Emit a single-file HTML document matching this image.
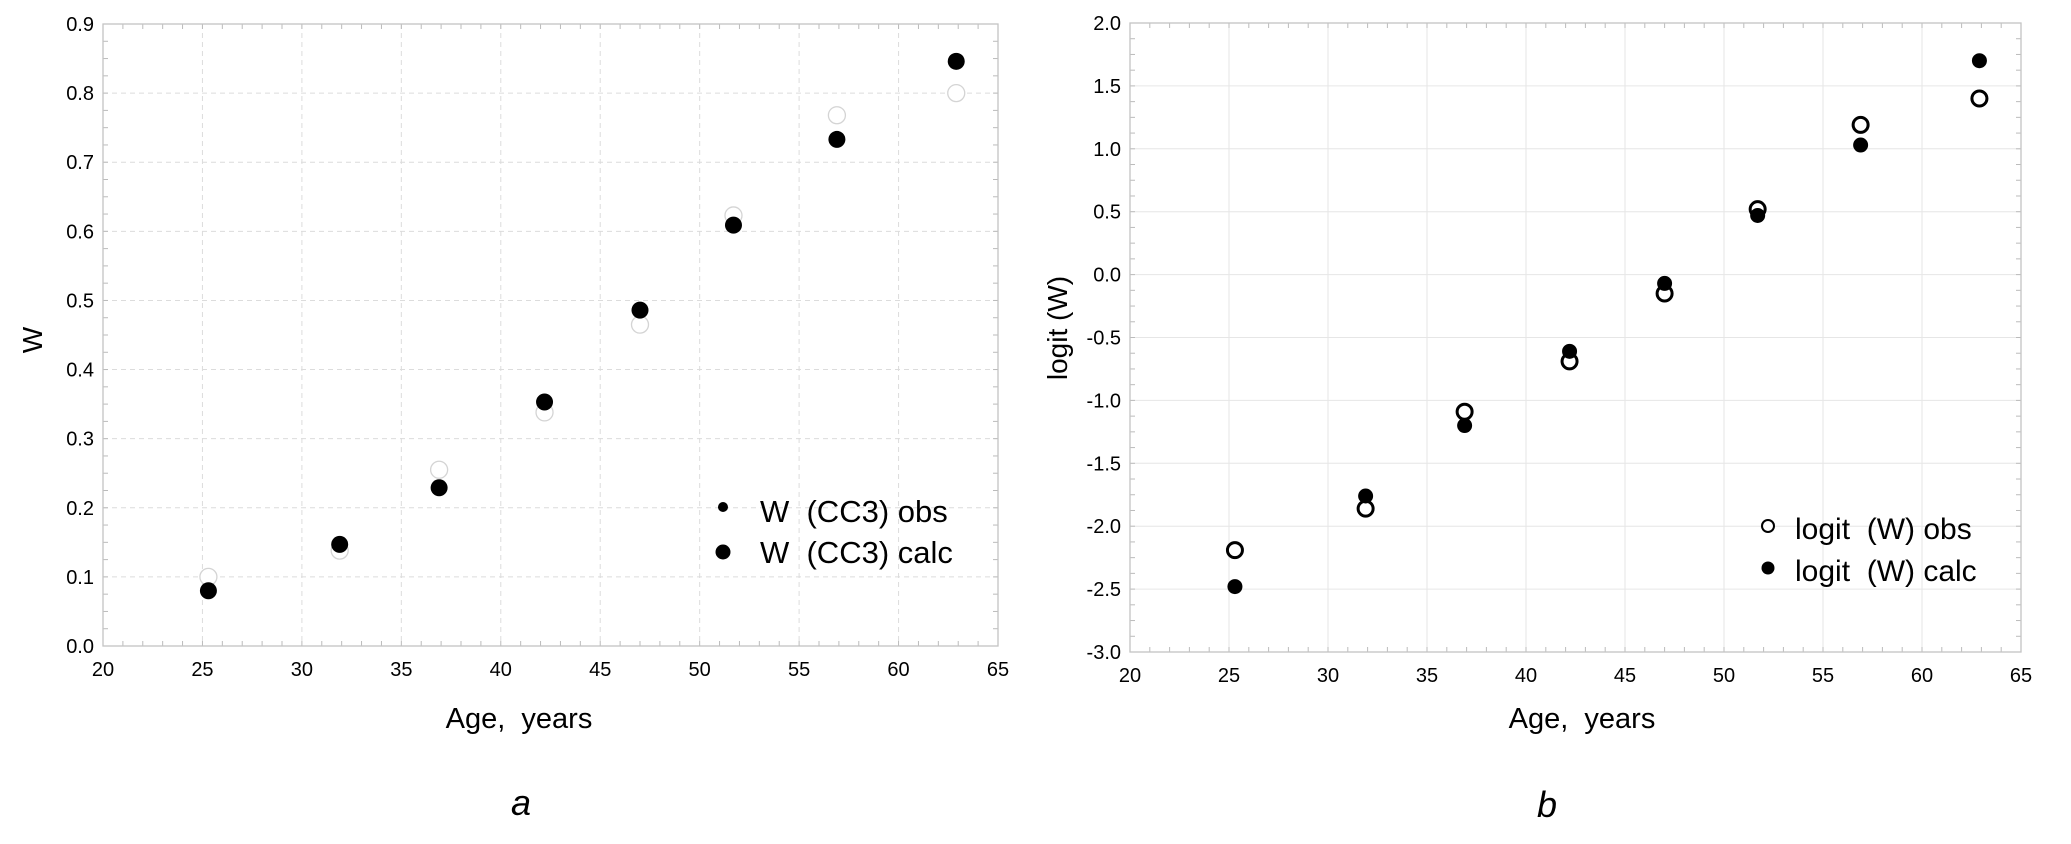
<!DOCTYPE html>
<html><head><meta charset="utf-8"><style>
body{margin:0;background:#fff;}
svg{display:block;font-family:"Liberation Sans",sans-serif;}
text{white-space:pre;}
</style></head><body>
<svg id="fig" width="2071" height="844">
<g id="pa"></g>
<g id="pb"></g>
<text x="521" y="815" font-size="36" font-style="italic" text-anchor="middle">a</text>
<text x="1547" y="817" font-size="36" font-style="italic" text-anchor="middle">b</text>
</svg>
<script>
const ages = [25.3, 31.9, 36.9, 42.2, 47.0, 51.7, 56.9, 62.9];
const wObs = [0.10, 0.138, 0.255, 0.338, 0.465, 0.623, 0.768, 0.80];
const wCalc = [0.08, 0.147, 0.229, 0.353, 0.486, 0.609, 0.733, 0.846];
const logitObs = [-2.19, -1.86, -1.09, -0.69, -0.15, 0.52, 1.19, 1.40];
const logitCalc = [-2.48, -1.76, -1.20, -0.61, -0.07, 0.47, 1.03, 1.70];
const xTicks = [20, 25, 30, 35, 40, 45, 50, 55, 60, 65];
const yTicksA = ["0.0","0.1","0.2","0.3","0.4","0.5","0.6","0.7","0.8","0.9"];
const yTicksB = ["-3.0","-2.5","-2.0","-1.5","-1.0","-0.5","0.0","0.5","1.0","1.5","2.0"];

const NS='http://www.w3.org/2000/svg';
function mk(parent, tag, attrs, text){
  const e=document.createElementNS(NS,tag);
  for(const k in attrs) e.setAttribute(k,attrs[k]);
  if(text!==undefined) e.textContent=text;
  parent.appendChild(e); return e;
}
function chart(g, cfg){
  const {L,R,T,B,ymin,ymax,yTicks,dashed}=cfg;
  const sx=v=>L+(v-20)/(65-20)*(R-L);
  const sy=v=>B-(v-ymin)/(ymax-ymin)*(B-T);
  xTicks.forEach(t=>{ if(t>20&&t<65){
    const l=mk(g,'line',{x1:sx(t),x2:sx(t),y1:T,y2:B,stroke:dashed?'#dcdcdc':'#e6e6e6','stroke-width':1,'stroke-dasharray':dashed?'5,4':'none'});
     }});
  yTicks.forEach(t=>{ const v=parseFloat(t); if(v>ymin&&v<ymax){
    const l=mk(g,'line',{x1:L,x2:R,y1:sy(v),y2:sy(v),stroke:dashed?'#dcdcdc':'#e6e6e6','stroke-width':1,'stroke-dasharray':dashed?'5,4':'none'});
     }});
  for(let v=20; v<=65.001; v+=1){
    const t=mk(g,'line',{x1:sx(v),x2:sx(v),y1:B,y2:B-5,stroke:'#bbb'});
     
    const t2=mk(g,'line',{x1:sx(v),x2:sx(v),y1:T,y2:T+5,stroke:'#bbb'});
     
  }
  const step=(parseFloat(yTicks[1])-parseFloat(yTicks[0]))/4;
  for(let v=ymin; v<=ymax+1e-9; v+=step){
    const t=mk(g,'line',{x1:L,x2:L+5,y1:sy(v),y2:sy(v),stroke:'#bbb'});
     
    const t2=mk(g,'line',{x1:R,x2:R-5,y1:sy(v),y2:sy(v),stroke:'#bbb'});
     
  }
  const fr=mk(g,'rect',{x:L,y:T,width:R-L,height:B-T,fill:'none',stroke:'#c4c4c4','stroke-width':1.3});
   
  xTicks.forEach(t=>{
    const e=mk(g,'text',{x:sx(t),y:B+30,'font-size':20,'text-anchor':'middle'},String(t));
     });
  yTicks.forEach(t=>{
    const e=mk(g,'text',{x:L-9,y:sy(parseFloat(t))+7,'font-size':20,'text-anchor':'end'},t);
     });
  const xt=mk(g,'text',{x:cfg.xtX,y:728,'font-size':29,'text-anchor':'middle'},'Age,  years');
   
  const yt=mk(g,'text',{x:cfg.ytX,y:cfg.ytY,'font-size':28,'text-anchor':'middle',transform:`rotate(-90 ${cfg.ytX} ${cfg.ytY})`},cfg.ylabel);
   
  ages.forEach((a,i)=>{
    const o=mk(g,'circle',{cx:sx(a),cy:sy(cfg.obs[i]),r:cfg.obsR,fill:'#fff',stroke:cfg.obsStroke,'stroke-width':cfg.obsSW});
     
  });
  ages.forEach((a,i)=>{
    const c=mk(g,'circle',{cx:sx(a),cy:sy(cfg.calc[i]),r:cfg.calcR,fill:'#000'});
     
  });
}
chart(document.getElementById('pa'),{L:103,R:998,T:24,B:646,ymin:0,ymax:0.9,yTicks:yTicksA,dashed:true,
  obs:wObs,calc:wCalc,obsR:8.5,obsStroke:'#d4d4d4',obsSW:1.3,calcR:8.5,
  xtX:519,ytX:42,ytY:340,ylabel:'W'});
chart(document.getElementById('pb'),{L:1130,R:2021,T:23,B:652,ymin:-3,ymax:2,yTicks:yTicksB,dashed:false,
  obs:logitObs,calc:logitCalc,obsR:7.5,obsStroke:'#000',obsSW:3,calcR:7.5,
  xtX:1582,ytX:1067,ytY:328,ylabel:'logit (W)'});
const ga=document.getElementById('pa');
let e;
e=mk(ga,'circle',{cx:723,cy:507,r:5,fill:'#000'});  
e=mk(ga,'text',{x:760,y:522,'font-size':31},'W  (CC3) obs');  
e=mk(ga,'circle',{cx:723,cy:552,r:7.5,fill:'#000'});  
e=mk(ga,'text',{x:760,y:563,'font-size':31},'W  (CC3) calc');  
const gb=document.getElementById('pb');
e=mk(gb,'circle',{cx:1768,cy:526,r:6,fill:'#fff',stroke:'#000','stroke-width':2});  
e=mk(gb,'text',{x:1795,y:539,'font-size':30},'logit  (W) obs');  
e=mk(gb,'circle',{cx:1768,cy:568,r:6.5,fill:'#000'});  
e=mk(gb,'text',{x:1795,y:581,'font-size':30},'logit  (W) calc');  
</script>
</body></html>
